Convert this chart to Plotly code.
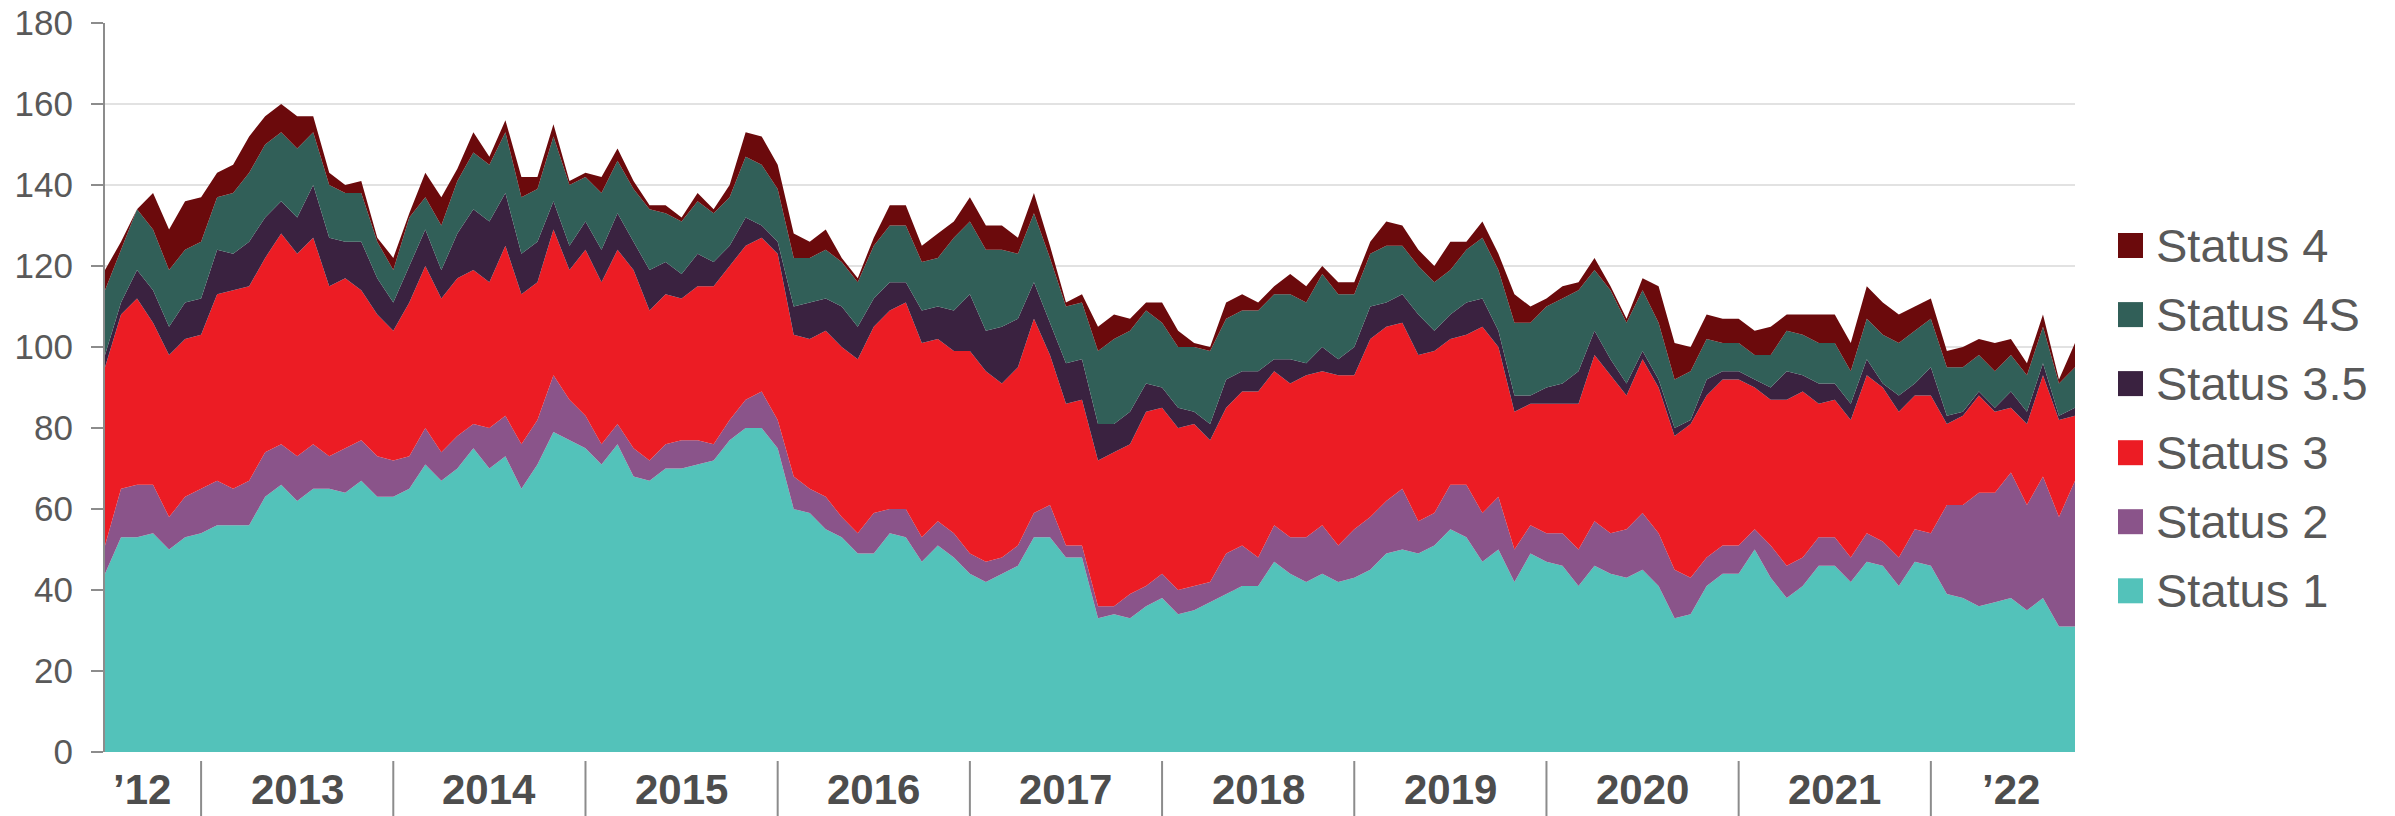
import plotly.graph_objects as go

# ---------------- data (monthly, Jul 2012 .. Oct 2022) ----------------
status_1 = [44, 53, 53, 54, 50, 53, 54, 56, 56, 56,
            63, 66, 62, 65, 65, 64, 67, 63, 63, 65,
            71, 67, 70, 75, 70, 73, 65, 71, 79, 77,
            75, 71, 76, 68, 67, 70, 70, 71, 72, 77,
            80, 80, 75, 60, 59, 55, 53, 49, 49, 54,
            53, 47, 51, 48, 44, 42, 44, 46, 53, 53,
            48, 48, 33, 34, 33, 36, 38, 34, 35, 37,
            39, 41, 41, 47, 44, 42, 44, 42, 43, 45,
            49, 50, 49, 51, 55, 53, 47, 50, 42, 49,
            47, 46, 41, 46, 44, 43, 45, 41, 33, 34,
            41, 44, 44, 50, 43, 38, 41, 46, 46, 42,
            47, 46, 41, 47, 46, 39, 38, 36, 37, 38,
            35, 38, 31, 31]
status_2 = [7, 12, 13, 12, 8, 10, 11, 11, 9, 11,
            11, 10, 11, 11, 8, 11, 10, 10, 9, 8,
            9, 7, 8, 6, 10, 10, 11, 11, 14, 10,
            8, 5, 5, 7, 5, 6, 7, 6, 4, 5,
            7, 9, 7, 8, 6, 8, 5, 5, 10, 6,
            7, 6, 6, 6, 5, 5, 4, 5, 6, 8,
            3, 3, 3, 2, 6, 5, 6, 6, 6, 5,
            10, 10, 7, 9, 9, 11, 12, 9, 12, 13,
            13, 15, 8, 8, 11, 13, 12, 13, 8, 7,
            7, 8, 9, 11, 10, 12, 14, 13, 12, 9,
            7, 7, 7, 5, 8, 8, 7, 7, 7, 6,
            7, 6, 7, 8, 8, 22, 23, 28, 27, 31,
            26, 30, 27, 36]
status_3 = [44, 43, 46, 40, 40, 39, 38, 46, 49, 48,
            48, 52, 50, 51, 42, 42, 37, 35, 32, 38,
            40, 38, 39, 38, 36, 42, 37, 34, 36, 32,
            41, 40, 43, 44, 37, 37, 35, 38, 39, 38,
            38, 38, 41, 35, 37, 41, 42, 43, 46, 49,
            51, 48, 45, 45, 50, 47, 43, 44, 48, 37,
            35, 36, 36, 38, 37, 43, 41, 40, 40, 35,
            36, 38, 41, 38, 38, 40, 38, 42, 38, 44,
            43, 41, 41, 40, 36, 37, 46, 37, 34, 30,
            32, 32, 36, 41, 39, 33, 38, 36, 33, 38,
            40, 41, 41, 35, 36, 41, 41, 33, 34, 34,
            39, 38, 36, 33, 34, 20, 22, 24, 20, 16,
            20, 25, 24, 16]
status_3_5 = [3, 3, 7, 8, 7, 9, 9, 11, 9, 11,
              10, 8, 9, 13, 12, 9, 12, 9, 7, 9,
              9, 7, 11, 15, 15, 13, 10, 10, 7, 6,
              7, 8, 9, 7, 10, 8, 6, 8, 6, 5,
              7, 3, 3, 7, 9, 8, 10, 8, 7, 7,
              5, 8, 8, 10, 14, 10, 14, 12, 9, 8,
              10, 10, 9, 7, 8, 7, 5, 5, 3, 4,
              7, 5, 5, 3, 6, 3, 6, 4, 7, 8,
              6, 7, 10, 5, 6, 8, 7, 4, 4, 2,
              4, 5, 8, 6, 4, 3, 2, 2, 2, 1,
              4, 2, 2, 2, 3, 7, 4, 5, 4, 4,
              4, 1, 4, 3, 7, 2, 1, 1, 1, 4,
              3, 3, 1, 2]
status_4s = [16, 13, 15, 15, 14, 13, 14, 13, 15, 17,
             18, 17, 17, 13, 13, 12, 12, 9, 8, 12,
             8, 11, 13, 14, 14, 15, 14, 13, 16, 15,
             11, 14, 13, 13, 15, 12, 13, 13, 12, 12,
             15, 15, 13, 12, 11, 12, 11, 11, 13, 14,
             14, 12, 12, 18, 18, 20, 19, 16, 17, 16,
             14, 14, 18, 21, 20, 18, 16, 15, 16, 18,
             15, 15, 15, 16, 16, 15, 18, 16, 13, 13,
             14, 12, 12, 12, 11, 13, 15, 15, 18, 18,
             20, 21, 20, 15, 17, 15, 15, 14, 12, 12,
             10, 7, 7, 6, 8, 10, 10, 10, 10, 8,
             10, 12, 13, 13, 12, 12, 11, 9, 9, 9,
             9, 9, 8, 10]
status_4 = [5, 2, 0, 9, 10, 12, 11, 6, 7, 9,
            7, 7, 8, 4, 3, 2, 3, 1, 3, 1,
            6, 7, 3, 5, 2, 3, 5, 3, 3, 1,
            1, 4, 3, 2, 1, 2, 1, 2, 1, 3,
            6, 7, 6, 6, 4, 5, 1, 1, 2, 5,
            5, 4, 6, 4, 6, 6, 6, 4, 5, 3,
            1, 2, 6, 6, 3, 2, 5, 4, 1, 1,
            4, 4, 2, 2, 5, 4, 2, 3, 3, 3,
            6, 5, 4, 4, 7, 2, 4, 4, 7, 4,
            2, 3, 2, 3, 1, 1, 3, 9, 9, 6,
            6, 6, 6, 6, 7, 4, 5, 7, 7, 7,
            8, 8, 7, 6, 5, 4, 5, 4, 7, 4,
            3, 3, 1, 6]

series_names = ["Status 1", "Status 2", "Status 3", "Status 3.5", "Status 4S", "Status 4"]
series_colors = ["#53C2BA", "#8A548A", "#EC1C24", "#3A2240", "#315F58", "#6B0A0C"]
series_values = [status_1, status_2, status_3, status_3_5, status_4s, status_4]

year_labels = ["\u201912", "2013", "2014", "2015", "2016", "2017",
               "2018", "2019", "2020", "2021", "\u201922"]
year_label_pos = [2.3, 12, 24, 36, 48, 60, 72, 84, 96, 108, 119]
year_separators = [6, 18, 30, 42, 54, 66, 78, 90, 102, 114]

# ---------------- figure ----------------
W, H = 2395, 816
ML, MR, MT, MB = 105, 320, 23, 64
PW, PH = W - ML - MR, H - MT - MB
FONT = "Arial, 'Liberation Sans', sans-serif"
TXT = "#595959"
n = len(status_1)
x = list(range(n))

fig = go.Figure()
for name, col, vals in zip(series_names, series_colors, series_values):
    fig.add_trace(go.Scatter(
        x=x, y=vals, name=name, mode="lines", stackgroup="one",
        line=dict(width=0, color=col), fillcolor=col, showlegend=False,
    ))

def px_x(p):
    return (p - ML) / PW

def px_y(p):
    return (MT + PH - p) / PH

shapes = []
annotations = []
# year separators
for s in year_separators:
    shapes.append(dict(type="line", xref="x", yref="paper", x0=s, x1=s,
                       y0=px_y(761), y1=px_y(816),
                       line=dict(color="#8c8c8c", width=2)))
# year labels
for lab, pos in zip(year_labels, year_label_pos):
    annotations.append(dict(text="<b>%s</b>" % lab, x=pos, xref="x", y=px_y(789), yref="paper",
                            xanchor="center", yanchor="middle", showarrow=False,
                            font=dict(family=FONT, size=42, color="#4d4d4d")))
# manual legend (top: Status 4 ... bottom: Status 1)
leg_centers = [245.5, 314.6, 383.6, 452.7, 521.7, 590.8]
for k, (name, col) in enumerate(zip(series_names[::-1], series_colors[::-1])):
    cy = leg_centers[k]
    shapes.append(dict(type="rect", xref="paper", yref="paper",
                       x0=px_x(2118), x1=px_x(2143), y0=px_y(cy + 12.5), y1=px_y(cy - 12.5),
                       fillcolor=col, line=dict(width=0)))
    annotations.append(dict(text=name, x=px_x(2154), xref="paper", y=px_y(cy), yref="paper",
                            xanchor="left", yanchor="middle", showarrow=False,
                            font=dict(family=FONT, size=47, color=TXT)))

fig.update_layout(
    width=W, height=H, autosize=False,
    margin=dict(l=ML, r=MR, t=MT, b=MB, pad=0),
    paper_bgcolor="white", plot_bgcolor="white",
    showlegend=False, hovermode=False,
    shapes=shapes, annotations=annotations,
    xaxis=dict(range=[0, n - 1], showgrid=False, zeroline=False, showline=False,
               showticklabels=False, ticks=""),
    yaxis=dict(range=[0, 180], dtick=20, tick0=0, showgrid=True, gridcolor="#e2e2e2", gridwidth=2,
               zeroline=False, showline=True, linecolor="#8c8c8c", linewidth=2,
               ticks="outside", ticklen=12, tickwidth=2, tickcolor="#8c8c8c",
               ticklabelstandoff=11, automargin=False,
               tickfont=dict(family=FONT, size=35, color=TXT)),
)

fig.write_html("out.html",
               config={"displayModeBar": False, "staticPlot": True},
               post_script="document.body.style.margin='0';document.body.style.padding='0';"
                           "document.documentElement.style.overflow='hidden';")
